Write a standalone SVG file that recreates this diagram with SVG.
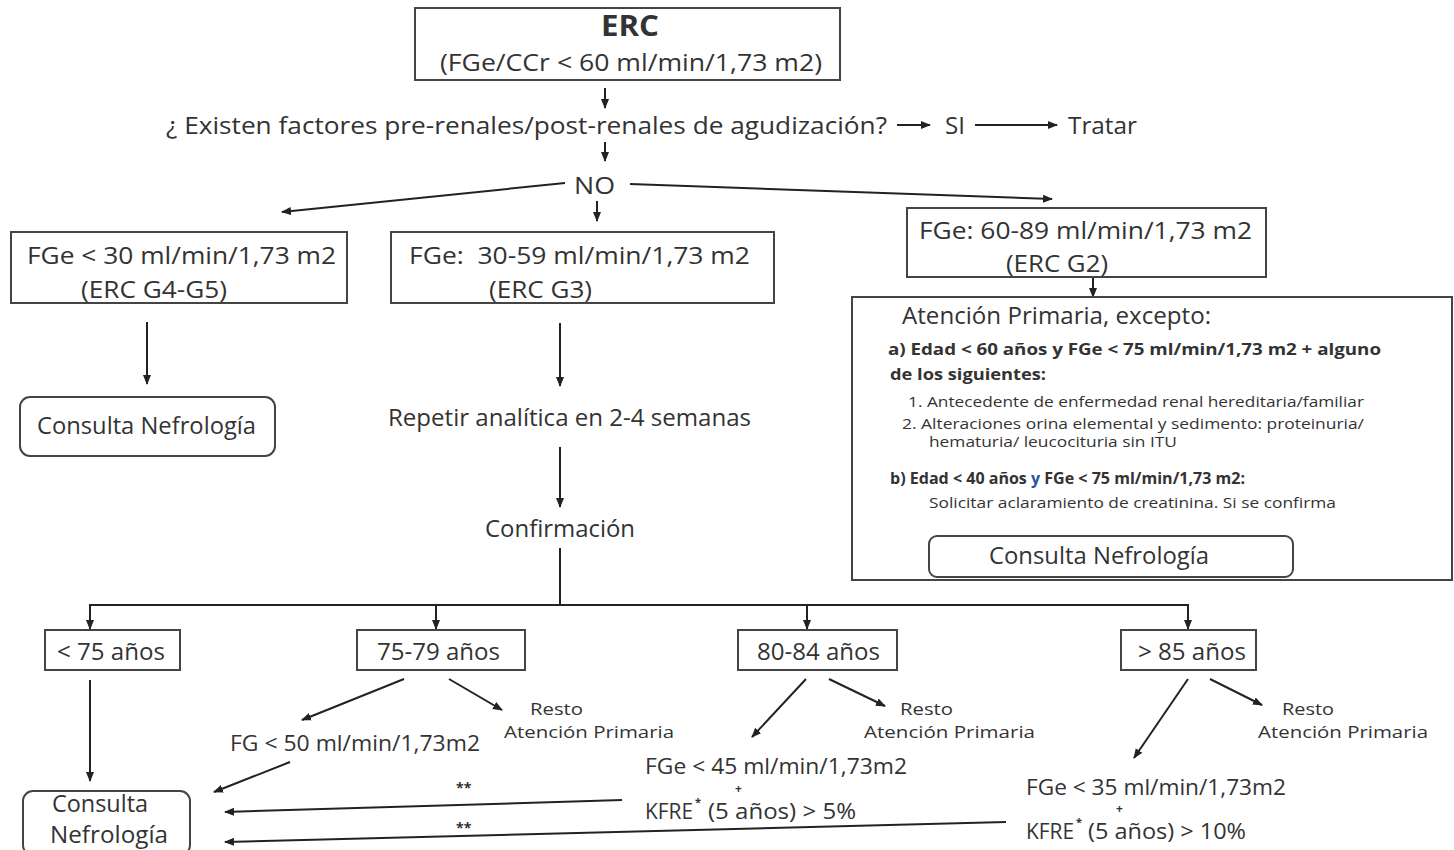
<svg xmlns="http://www.w3.org/2000/svg" width="1454" height="850" viewBox="0 0 1454 850">
<defs>
<marker id="ah" viewBox="0 0 10 10" refX="9" refY="5" markerWidth="10" markerHeight="10" markerUnits="userSpaceOnUse" orient="auto">
<path d="M0,1 L10,5 L0,9 z" fill="#222"/>
</marker>
</defs>
<style>
text{font-family:"Open Sans","Noto Sans","Liberation Sans",sans-serif;fill:#333;}
.m{font-size:24px;}
.s{font-size:17px;}
.b{font-weight:bold;}
.box{fill:#fff;stroke:#444;stroke-width:2;}
.c{fill:none;stroke:#222;stroke-width:2;}
.ca{fill:none;stroke:#222;stroke-width:2;marker-end:url(#ah);}
</style>
<rect width="1454" height="850" fill="#fff"/>

<g id="connectors">
<line class="ca" x1="605" y1="88" x2="605" y2="108"/>
<line class="ca" x1="897" y1="125" x2="930" y2="125"/>
<line class="ca" x1="975" y1="125" x2="1057" y2="125"/>
<line class="ca" x1="605" y1="142" x2="605" y2="161"/>
<line class="ca" x1="565" y1="183" x2="282" y2="212"/>
<line class="ca" x1="630" y1="184" x2="1052" y2="199"/>
<line class="ca" x1="597" y1="201" x2="597" y2="221"/>
<line class="ca" x1="1093" y1="277" x2="1093" y2="297"/>
<line class="ca" x1="1117" y1="512" x2="1117" y2="533"/>
<line class="ca" x1="147" y1="322" x2="147" y2="384"/>
<line class="ca" x1="560" y1="323" x2="560" y2="386"/>
<line class="ca" x1="560" y1="447" x2="560" y2="507"/>
<line class="c" x1="560" y1="548" x2="560" y2="605"/>
<line class="c" x1="89" y1="605" x2="1189" y2="605"/>
<line class="ca" x1="90" y1="605" x2="90" y2="629"/>
<line class="ca" x1="436" y1="605" x2="436" y2="629"/>
<line class="ca" x1="807" y1="605" x2="807" y2="629"/>
<line class="ca" x1="1188" y1="605" x2="1188" y2="629"/>
<line class="ca" x1="90" y1="680" x2="90" y2="781"/>
<line class="ca" x1="404" y1="679" x2="302" y2="720"/>
<line class="ca" x1="449" y1="679" x2="502" y2="710"/>
<line class="ca" x1="290" y1="762" x2="214" y2="792"/>
<line class="ca" x1="806" y1="679" x2="752" y2="737"/>
<line class="ca" x1="829" y1="679" x2="885" y2="706"/>
<line class="ca" x1="1188" y1="679" x2="1134" y2="758"/>
<line class="ca" x1="1210" y1="679" x2="1262" y2="705"/>
<line class="ca" x1="622" y1="800" x2="225" y2="812"/>
<line class="ca" x1="1006" y1="822" x2="225" y2="842"/>
</g>

<g id="erc">
<rect class="box" x="415" y="8" width="425" height="72"/>
<text class="b" x="601" y="36" font-size="29" textLength="58" lengthAdjust="spacingAndGlyphs">ERC</text>
<text class="m" x="440" y="71" textLength="382" lengthAdjust="spacingAndGlyphs">(FGe/CCr &lt; 60 ml/min/1,73 m2)</text>
</g>

<g id="question">
<text class="m" x="166" y="134" textLength="721" lengthAdjust="spacingAndGlyphs">¿ Existen factores pre-renales/post-renales de agudización?</text>
</g>
<g id="si"><text class="m" x="945" y="134" textLength="20" lengthAdjust="spacingAndGlyphs">SI</text></g>
<g id="tratar"><text class="m" x="1068" y="134" textLength="69" lengthAdjust="spacingAndGlyphs">Tratar</text></g>
<g id="no"><text class="m" x="574" y="194" textLength="41" lengthAdjust="spacingAndGlyphs">NO</text></g>

<g id="g45">
<rect class="box" x="11" y="232" width="336" height="71"/>
<text class="m" x="27" y="264" textLength="309" lengthAdjust="spacingAndGlyphs">FGe &lt; 30 ml/min/1,73 m2</text>
<text class="m" x="81" y="298" textLength="146" lengthAdjust="spacingAndGlyphs">(ERC G4-G5)</text>
</g>

<g id="g3">
<rect class="box" x="391" y="232" width="383" height="71"/>
<text class="m" x="409" y="264" textLength="341" lengthAdjust="spacingAndGlyphs">FGe:&#160; 30-59 ml/min/1,73 m2</text>
<text class="m" x="489" y="298" textLength="103" lengthAdjust="spacingAndGlyphs">(ERC G3)</text>
</g>

<g id="g2">
<rect class="box" x="907" y="208" width="359" height="69"/>
<text class="m" x="919" y="239" textLength="333" lengthAdjust="spacingAndGlyphs">FGe: 60-89 ml/min/1,73 m2</text>
<text class="m" x="1006" y="272" textLength="102" lengthAdjust="spacingAndGlyphs">(ERC G2)</text>
</g>

<g id="ap">
<rect class="box" x="852" y="297" width="600" height="283"/>
<text x="902" y="324" font-size="23" textLength="309" lengthAdjust="spacingAndGlyphs">Atención Primaria, excepto:</text>
<text class="b" x="888" y="355" font-size="16" textLength="493" lengthAdjust="spacingAndGlyphs">a) Edad &lt; 60 años y FGe &lt; 75 ml/min/1,73 m2 + alguno</text>
<text class="b" x="890" y="380" font-size="16" textLength="156" lengthAdjust="spacingAndGlyphs">de los siguientes:</text>
<text x="908" y="407" font-size="14" textLength="456" lengthAdjust="spacingAndGlyphs">1. Antecedente de enfermedad renal hereditaria/familiar</text>
<text x="902" y="429" font-size="14" textLength="462" lengthAdjust="spacingAndGlyphs">2. Alteraciones orina elemental y sedimento: proteinuria/</text>
<text x="929" y="447" font-size="14" textLength="248" lengthAdjust="spacingAndGlyphs">hematuria/ leucocituria sin ITU</text>
<text class="b" x="890" y="484" font-size="16" textLength="355" lengthAdjust="spacingAndGlyphs">b) Edad &lt; 40 años <tspan fill="#2f5597">y</tspan> FGe &lt; 75 ml/min/1,73 m2:</text>
<text x="929" y="508" font-size="14" textLength="407" lengthAdjust="spacingAndGlyphs">Solicitar aclaramiento de creatinina. Si se confirma</text>
</g>

<g id="nef-g2">
<rect class="box" x="929" y="536" width="364" height="41" rx="8"/>
<text x="989" y="564" font-size="23" textLength="220" lengthAdjust="spacingAndGlyphs">Consulta Nefrología</text>
</g>

<g id="nef-g45">
<rect class="box" x="20" y="397" width="255" height="59" rx="10"/>
<text x="37" y="434" font-size="23" textLength="219" lengthAdjust="spacingAndGlyphs">Consulta Nefrología</text>
</g>

<g id="repetir"><text class="m" x="388" y="426" textLength="363" lengthAdjust="spacingAndGlyphs">Repetir analítica en 2-4 semanas</text></g>
<g id="confirmacion"><text class="m" x="485" y="537" textLength="150" lengthAdjust="spacingAndGlyphs">Confirmación</text></g>

<g id="age75">
<rect class="box" x="45" y="630" width="135" height="40"/>
<text class="m" x="57" y="660" textLength="108" lengthAdjust="spacingAndGlyphs">&lt; 75 años</text>
</g>
<g id="age7579">
<rect class="box" x="357" y="630" width="168" height="40"/>
<text class="m" x="377" y="660" textLength="123" lengthAdjust="spacingAndGlyphs">75-79 años</text>
</g>
<g id="age8084">
<rect class="box" x="738" y="630" width="159" height="40"/>
<text class="m" x="757" y="660" textLength="123" lengthAdjust="spacingAndGlyphs">80-84 años</text>
</g>
<g id="age85">
<rect class="box" x="1121" y="630" width="135" height="40"/>
<text class="m" x="1138" y="660" textLength="108" lengthAdjust="spacingAndGlyphs">&gt; 85 años</text>
</g>

<g id="resto1">
<text class="s" x="530" y="715" textLength="53" lengthAdjust="spacingAndGlyphs">Resto</text>
<text class="s" x="504" y="738" textLength="170" lengthAdjust="spacingAndGlyphs">Atención Primaria</text>
</g>
<g id="resto2">
<text class="s" x="900" y="715" textLength="53" lengthAdjust="spacingAndGlyphs">Resto</text>
<text class="s" x="864" y="738" textLength="171" lengthAdjust="spacingAndGlyphs">Atención Primaria</text>
</g>
<g id="resto3">
<text class="s" x="1282" y="715" textLength="52" lengthAdjust="spacingAndGlyphs">Resto</text>
<text class="s" x="1258" y="738" textLength="170" lengthAdjust="spacingAndGlyphs">Atención Primaria</text>
</g>

<g id="fg50">
<text x="230" y="751" font-size="22" textLength="250" lengthAdjust="spacingAndGlyphs">FG &lt; 50 ml/min/1,73m2</text>
</g>

<g id="fge45">
<text x="645" y="774" font-size="22" textLength="262" lengthAdjust="spacingAndGlyphs">FGe &lt; 45 ml/min/1,73m2</text>
<text x="735" y="793" font-size="12" class="b">+</text>
<text x="645" y="819" font-size="22" textLength="48" lengthAdjust="spacingAndGlyphs">KFRE</text>
<text x="695" y="806" font-size="11" class="b">*</text>
<text x="708" y="819" font-size="22" textLength="148" lengthAdjust="spacingAndGlyphs">(5 años) &gt; 5%</text>
</g>

<g id="fge35">
<text x="1026" y="795" font-size="22" textLength="260" lengthAdjust="spacingAndGlyphs">FGe &lt; 35 ml/min/1,73m2</text>
<text x="1116" y="813" font-size="12" class="b">+</text>
<text x="1026" y="839" font-size="22" textLength="48" lengthAdjust="spacingAndGlyphs">KFRE</text>
<text x="1076" y="826" font-size="11" class="b">*</text>
<text x="1088" y="839" font-size="22" textLength="158" lengthAdjust="spacingAndGlyphs">(5 años) &gt; 10%</text>
</g>

<g id="stars">
<text x="456" y="793" font-size="14" class="b">**</text>
<text x="456" y="833" font-size="14" class="b">**</text>
</g>

<g id="nef-bottom">
<rect class="box" x="23" y="791" width="167" height="64" rx="10"/>
<text x="52" y="812" font-size="23" textLength="96" lengthAdjust="spacingAndGlyphs">Consulta</text>
<text x="50" y="843" font-size="23" textLength="118" lengthAdjust="spacingAndGlyphs">Nefrología</text>
</g>
</svg>
